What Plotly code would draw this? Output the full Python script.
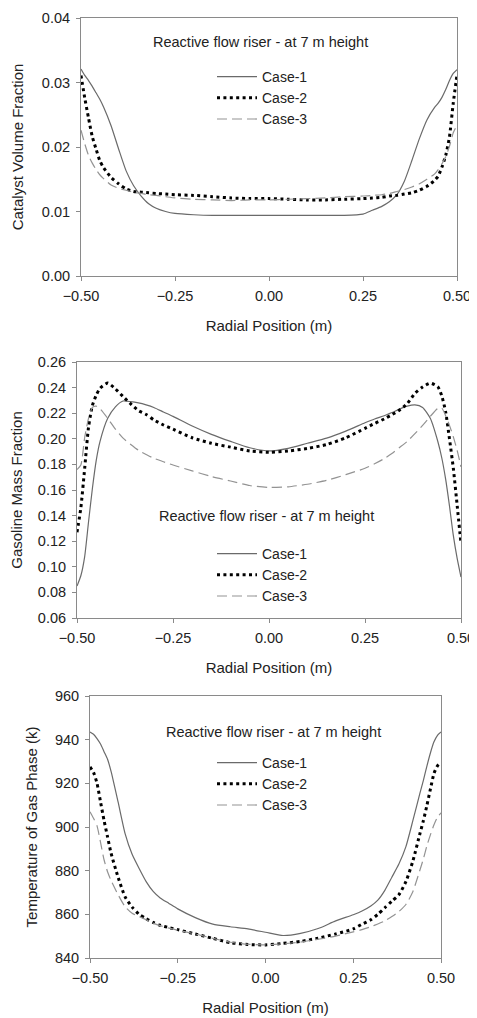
import plotly.graph_objects as go

# ---------------- data ----------------
radial_position = [-0.5, -0.49, -0.48, -0.47, -0.46, -0.45, -0.44, -0.42, -0.40, -0.38, -0.36,
                   -0.34, -0.32, -0.30, -0.275, -0.25, -0.2, -0.15, -0.1, -0.05, 0.0,
                   0.05, 0.1, 0.15, 0.2, 0.25, 0.275, 0.30, 0.32, 0.34, 0.36, 0.38, 0.40,
                   0.42, 0.44, 0.45, 0.46, 0.47, 0.48, 0.49, 0.5]

case_names = ["Case-1", "Case-2", "Case-3"]

# Panel 1: catalyst volume fraction
catalyst_case1 = [0.0321, 0.0311, 0.0303, 0.0294, 0.0284, 0.0274, 0.0262, 0.0233, 0.0197, 0.0163, 0.0140,
                  0.0124, 0.0112, 0.0105, 0.0100, 0.0097, 0.0095, 0.0094, 0.0094, 0.0094, 0.0094,
                  0.0094, 0.0094, 0.0094, 0.0094, 0.0096, 0.0102, 0.0108, 0.0115, 0.0126, 0.0147, 0.0179, 0.0213,
                  0.0242, 0.0261, 0.0268, 0.0277, 0.0289, 0.0303, 0.0314, 0.0320]
catalyst_case2 = [0.0311, 0.0276, 0.0245, 0.0216, 0.0197, 0.0179, 0.0168, 0.0153, 0.0143, 0.0135, 0.0131,
                  0.0130, 0.0129, 0.0128, 0.0127, 0.0126, 0.0125, 0.0123, 0.0121, 0.0120, 0.0120,
                  0.0119, 0.0118, 0.0118, 0.0119, 0.0120, 0.0121, 0.0122, 0.0124, 0.0125, 0.0127, 0.0129, 0.0133,
                  0.0139, 0.0148, 0.0155, 0.0169, 0.0187, 0.0216, 0.0268, 0.0312]
catalyst_case3 = [0.0226, 0.0205, 0.0187, 0.0175, 0.0165, 0.0157, 0.0151, 0.0141, 0.0136, 0.0133, 0.0130,
                  0.0128, 0.0126, 0.0125, 0.0123, 0.0121, 0.0119, 0.0118, 0.0117, 0.0118, 0.0118,
                  0.0119, 0.0120, 0.0121, 0.0123, 0.0124, 0.0125, 0.0126, 0.0128, 0.0131, 0.0134, 0.0138, 0.0143,
                  0.0150, 0.0158, 0.0165, 0.0174, 0.0185, 0.0201, 0.0222, 0.0234]

# Panel 2: gasoline mass fraction
gasoline_case1 = [0.085, 0.093, 0.108, 0.135, 0.161, 0.183, 0.198, 0.216, 0.225, 0.2295, 0.229,
                  0.228, 0.2265, 0.2245, 0.221, 0.2175, 0.210, 0.2035, 0.198, 0.193, 0.1905,
                  0.1925, 0.1965, 0.2005, 0.206, 0.2125, 0.2155, 0.218, 0.2205, 0.2232, 0.2255, 0.2265, 0.2245,
                  0.216, 0.1975, 0.185, 0.1685, 0.1475, 0.1245, 0.1065, 0.092]
gasoline_case2 = [0.127, 0.146, 0.177, 0.209, 0.226, 0.234, 0.2395, 0.2435, 0.239, 0.233, 0.2272,
                  0.222, 0.219, 0.2148, 0.2108, 0.2075, 0.2008, 0.1965, 0.1935, 0.1905, 0.1895,
                  0.1905, 0.1925, 0.1955, 0.2008, 0.2082, 0.212, 0.2155, 0.2188, 0.2225, 0.2275, 0.2355, 0.2405,
                  0.2435, 0.2405, 0.2335, 0.221, 0.200, 0.177, 0.148, 0.118]
gasoline_case3 = [0.176, 0.1795, 0.201, 0.216, 0.2245, 0.2255, 0.2235, 0.216, 0.2075, 0.2005, 0.1955,
                  0.191, 0.1878, 0.1848, 0.1821, 0.1795, 0.175, 0.1705, 0.167, 0.1635, 0.162,
                  0.1625, 0.1645, 0.1675, 0.172, 0.177, 0.1805, 0.1845, 0.1885, 0.1932, 0.198, 0.204, 0.2105,
                  0.2175, 0.2238, 0.224, 0.218, 0.2105, 0.2015, 0.191, 0.178]

# Panel 3: gas phase temperature (k)
temperature_case1 = [943.5, 942.5, 940.5, 938.0, 934.5, 931.0, 925.5, 911.5, 897.0, 887.5, 881.0,
                     875.0, 870.5, 867.5, 865.0, 862.5, 858.5, 855.5, 854.3, 853.3, 851.8,
                     850.3, 851.3, 853.5, 857.0, 859.8, 861.5, 863.8, 866.5, 871.0, 877.0, 883.0, 891.0,
                     903.0, 915.5, 921.5, 928.0, 934.0, 939.0, 942.0, 943.5]
temperature_case2 = [927.5, 925.0, 920.0, 911.5, 903.0, 895.5, 888.0, 877.0, 868.0, 863.3, 860.0,
                     858.0, 856.3, 855.0, 853.9, 853.0, 851.0, 849.0, 847.0, 846.2, 846.0,
                     846.7, 847.6, 849.1, 851.0, 853.3, 855.5, 857.5, 860.0, 863.0, 866.0, 869.0, 875.0,
                     884.5, 897.0, 903.0, 910.0, 917.5, 924.5, 928.0, 929.5]
temperature_case3 = [907.0, 904.0, 900.5, 893.0, 885.0, 879.5, 875.5, 869.0, 863.5, 860.5, 859.0,
                     857.5, 856.0, 854.8, 853.7, 852.7, 851.0, 849.0, 847.2, 846.3, 846.0,
                     846.5, 847.3, 848.6, 850.0, 852.0, 853.0, 854.3, 855.6, 857.0, 859.0, 861.3, 864.5,
                     870.5, 880.3, 885.5, 891.5, 896.5, 901.0, 904.5, 906.5]

x_ticks = [-0.5, -0.25, 0.0, 0.25, 0.5]
x_title = "Radial Position (m)"
y_titles = ["Catalyst Volume Fraction", "Gasoline Mass Fraction", "Temperature of Gas Phase (k)"]
panel_note = "Reactive flow riser - at 7 m height"

# ---------------- styling ----------------
OFF = 8                      # page offset of the figure (default body margin)
W, H = 477 - OFF, 1018 - OFF
FONT = "Liberation Sans, Arial, sans-serif"
TXT = "#222222"
AX = "#8a8a8a"
TICK_FS = 14.5

line_styles = [
    dict(color="#6a6a6a", width=1.2, dash="solid"),
    dict(color="#000000", width=3, dash="3px,3.4px"),
    dict(color="#939393", width=1.2, dash="10px,5px"),
]

def px_x(p):
    return (p - OFF) / W

def px_y(p):
    return 1 - (p - OFF) / H

# panel boxes in page pixels: (left, right, top, bottom)
boxes = [(81, 457, 18, 276), (77, 461, 362, 618), (90, 441, 696, 958)]
yranges = [[0, 0.04], [0.06, 0.26], [840, 960]]
ydticks = [0.01, 0.02, 20]
yformats = [".2f", ".2f", "d"]
ystandoffs = [14, 19, 13]
series = [
    [catalyst_case1, catalyst_case2, catalyst_case3],
    [gasoline_case1, gasoline_case2, gasoline_case3],
    [temperature_case1, temperature_case2, temperature_case3],
]
legend_pos = [(212, 61), (212, 538), (212, 747)]
note_pos = [(260, 42), (266, 516), (273, 732)]

fig = go.Figure()
layout = dict(
    width=W, height=H,
    margin=dict(l=0, r=0, t=0, b=0, autoexpand=False),
    paper_bgcolor="white", plot_bgcolor="white",
    font=dict(family=FONT, size=15, color=TXT),
    annotations=[],
)

for i in range(3):
    sfx = "" if i == 0 else str(i + 1)
    leg = "legend" if i == 0 else f"legend{i + 1}"
    for j in range(3):
        fig.add_trace(go.Scatter(
            x=radial_position, y=series[i][j], mode="lines", name=case_names[j],
            line=dict(shape="spline", smoothing=0.6, **line_styles[j]),
            xaxis="x" + sfx, yaxis="y" + sfx, legend=leg, showlegend=True,
        ))
    l, r, t, b = boxes[i]
    common = dict(showline=True, linecolor=AX, linewidth=1, mirror=True, ticks="outside",
                  ticklen=4, tickwidth=1, tickcolor=AX, showgrid=False, zeroline=False,
                  automargin=False, ticklabelstandoff=3,
                  tickfont=dict(family=FONT, size=TICK_FS, color=TXT))
    layout["xaxis" + sfx] = dict(
        domain=[px_x(l), px_x(r)], range=[-0.5, 0.5], tickvals=x_ticks, tickformat=".2f",
        anchor="y" + sfx,
        title=dict(text=x_title, standoff=17, font=dict(family=FONT, size=15, color=TXT)),
        **common)
    layout["yaxis" + sfx] = dict(
        domain=[px_y(b), px_y(t)], range=yranges[i], dtick=ydticks[i], tick0=yranges[i][0],
        tickformat=yformats[i], anchor="x" + sfx,
        title=dict(text=y_titles[i], standoff=ystandoffs[i], font=dict(family=FONT, size=15, color=TXT)),
        **common)
    lx, ly = legend_pos[i]
    layout[leg] = dict(x=px_x(lx), y=px_y(ly), xanchor="left", yanchor="top",
                       bgcolor="rgba(0,0,0,0)", borderwidth=0, itemwidth=40,
                       font=dict(family=FONT, size=14, color=TXT), tracegroupgap=0)
    nx, ny = note_pos[i]
    layout["annotations"].append(dict(
        text=panel_note, x=px_x(nx), y=px_y(ny), xref="paper", yref="paper",
        xanchor="center", yanchor="middle", showarrow=False,
        font=dict(family=FONT, size=14.5, color=TXT)))

fig.update_layout(**layout)
fig.write_html("out.html")
